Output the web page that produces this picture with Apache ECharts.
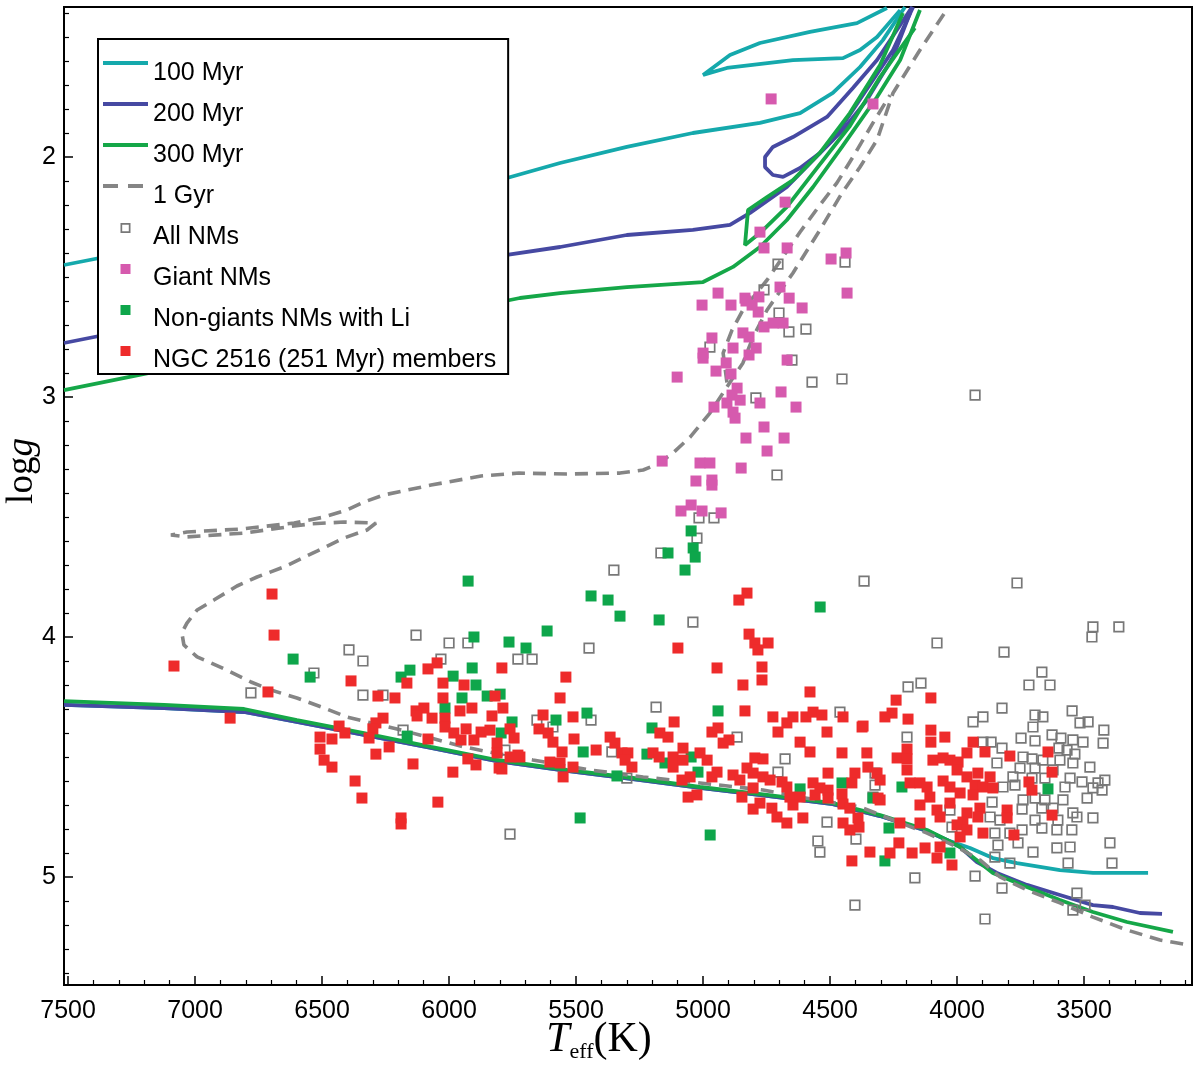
<!DOCTYPE html>
<html>
<head>
<meta charset="utf-8">
<script src="https://cdn.jsdelivr.net/npm/echarts@6/dist/echarts.min.js"></script>
<style>
html,body{margin:0;padding:0;background:#fff;}
#chart{width:1200px;height:1066px;}
</style>
</head>
<body>
<div id="chart"></div>
<script>
// ---------- names ----------
const seriesNames = ['100 Myr','200 Myr','300 Myr','1 Gyr','All NMs','Giant NMs','Non-giants NMs with Li','NGC 2516 (251 Myr) members'];

// ---------- isochrones [Teff, logg] ----------
const iso100Rgb = [[7516,2.45],[5772,2.0875],[5563,2.025],[5300,1.958],[5040,1.90],[4776,1.858],[4618,1.817],[4489,1.733],[4382,1.625],[4292,1.513],[4205,1.375]];
const iso100Loop = [[4276,1.379],[4394,1.442],[4579,1.479],[4776,1.525],[4894,1.575],[5000,1.658],[4906,1.629],[4646,1.596],[4449,1.588],[4382,1.554],[4315,1.5],[4224,1.388]];
const iso100Ms = [[7516,4.283],[7122,4.296],[6807,4.3125],[6599,4.354],[6335,4.408],[6071,4.4625],[5811,4.517],[5536,4.558],[5276,4.592],[5012,4.629],[4748,4.662],[4489,4.696],[4303,4.746],[4118,4.808],[4040,4.846],[3949,4.879],[3859,4.921],[3764,4.942],[3595,4.971],[3465,4.983],[3248,4.983]];

const iso200Rgb = [[7516,2.775],[5772,2.408],[5563,2.375],[5300,2.325],[5040,2.304],[4894,2.283],[4815,2.233],[4670,2.125],[4489,1.929],[4252,1.554],[4173,1.375]];
const iso200Loop = [[4177,1.375],[4315,1.596],[4410,1.7125],[4512,1.833],[4646,1.917],[4725,1.958],[4756,2.0],[4756,2.042],[4725,2.075],[4685,2.083],[4618,2.046],[4540,1.983],[4449,1.8875],[4355,1.7625],[4252,1.583],[4185,1.4]];
const iso200Ms = [[7516,4.283],[7122,4.296],[6807,4.3125],[6599,4.354],[6335,4.408],[6071,4.4625],[5811,4.517],[5536,4.558],[5276,4.592],[5012,4.629],[4748,4.662],[4489,4.696],[4303,4.746],[4118,4.808],[4040,4.846],[3988,4.875],[3922,4.9375],[3843,4.983],[3725,5.033],[3595,5.075],[3465,5.117],[3386,5.125],[3280,5.15],[3193,5.154]];

const iso300Rgb = [[7516,2.971],[5721,2.5875],[5563,2.567],[5300,2.542],[5000,2.521],[4882,2.458],[4776,2.375],[4670,2.2625],[4567,2.125],[4453,1.958],[4315,1.75],[4224,1.596],[4146,1.3875]];
const iso300Loop = [[4166,1.4625],[4303,1.667],[4422,1.871],[4567,2.067],[4670,2.208],[4776,2.317],[4835,2.367],[4823,2.221],[4748,2.167],[4646,2.096],[4540,1.983],[4422,1.817],[4303,1.617],[4213,1.4]];
const iso300Ms = [[7516,4.267],[7122,4.283],[6807,4.3],[6599,4.346],[6335,4.4],[6071,4.458],[5811,4.5125],[5536,4.554],[5276,4.5875],[5012,4.625],[4748,4.658],[4489,4.692],[4303,4.742],[4118,4.804],[4040,4.846],[3988,4.875],[3859,4.983],[3725,5.042],[3595,5.096],[3465,5.146],[3331,5.1875],[3150,5.229]];

const iso1GyrMain = [[3110,5.279],[3201,5.2625],[3331,5.221],[3465,5.167],[3595,5.108],[3725,5.054],[3831,5.0],[3910,4.929],[4000,4.875],[4118,4.817],[4252,4.7625],[4382,4.708],[4618,4.667],[4764,4.6375],[5012,4.608],[5236,4.583],[5445,4.554],[5670,4.5125],[5823,4.483],[5941,4.458],[6071,4.421],[6205,4.383],[6323,4.354],[6402,4.333],[6492,4.296],[6599,4.254],[6701,4.221],[6780,4.1875],[6859,4.146],[6937,4.108],[6992,4.083],[7044,4.033],[7052,3.983],[7032,3.942],[6992,3.8875],[6926,3.846],[6835,3.7875],[6756,3.75],[6650,3.708],[6520,3.642],[6414,3.5875],[6323,3.554],[6288,3.525],[6414,3.521],[6547,3.529],[6610,3.5375],[6807,3.567],[7032,3.583],[7095,3.575],[7032,3.5625],[6819,3.55],[6610,3.525],[6492,3.5],[6402,3.471],[6335,3.4375],[6256,3.408],[6071,3.367],[5874,3.329],[5725,3.317],[5536,3.321],[5327,3.317],[5236,3.304],[5177,3.279],[5118,3.233],[5051,3.167],[4973,3.067],[4906,2.958],[4843,2.858],[4803,2.75],[4748,2.6375],[4646,2.483],[4540,2.304],[4453,2.15],[4382,2.042],[4315,1.929],[4252,1.733],[4146,1.554],[4036,1.379]];
const iso1GyrAgb = [[4906,2.94],[4921,2.817],[4886,2.721],[4843,2.6375],[4748,2.5125],[4618,2.3125],[4540,2.2],[4473,2.108],[4410,2.0],[4331,1.858],[4264,1.742]];

// ---------- stars [Teff, logg] ----------
const allNMs = [[4705,2.446],[4441,2.438],[4760,2.554],[4701,2.65],[4662,2.729],[4595,2.717],[4973,2.792],[4650,2.846],[4571,2.938],[4453,2.925],[4792,3.004],[4709,3.325],[5016,3.504],[4957,3.504],[5024,3.588],[5166,3.65],[5351,3.721],[4366,3.767],[3929,2.992],[6130,3.992],[6000,4.025],[5926,4.025],[5729,4.092],[5673,4.092],[5449,4.046],[5040,3.938],[6394,4.054],[6339,4.1],[6532,4.15],[6032,4.092],[6339,4.242],[6260,4.242],[6780,4.233],[6181,4.388],[5780,4.471],[5760,4.821],[5185,4.292],[5654,4.346],[5441,4.346],[5591,4.375],[4866,4.417],[5359,4.479],[5300,4.588],[4461,4.313],[4677,4.508],[4705,4.563],[4323,4.567],[4323,4.617],[4331,4.667],[4512,4.771],[4548,4.85],[4540,4.896],[4398,4.842],[4079,4.025],[3815,4.063],[3465,3.958],[3363,3.958],[3469,4.0],[3666,4.146],[3717,4.2],[3634,4.2],[4193,4.208],[4142,4.192],[3823,4.296],[3937,4.354],[3898,4.333],[3693,4.325],[3662,4.333],[3701,4.375],[3547,4.308],[3516,4.358],[3484,4.354],[3422,4.388],[4197,4.417],[3898,4.438],[3866,4.438],[3823,4.463],[3748,4.421],[3693,4.433],[3626,4.408],[3591,4.421],[3544,4.429],[3504,4.438],[3425,4.442],[3599,4.463],[3567,4.471],[3536,4.488],[3740,4.5],[3705,4.508],[3662,4.513],[3595,4.513],[3544,4.525],[3843,4.525],[3752,4.546],[3693,4.546],[3622,4.554],[3477,4.542],[3780,4.583],[3705,4.588],[3654,4.588],[3555,4.588],[3508,4.604],[3445,4.608],[3418,4.596],[3465,4.629],[3429,4.638],[3819,4.625],[3772,4.617],[3575,4.625],[3488,4.671],[3862,4.688],[3740,4.679],[3693,4.671],[3654,4.679],[3622,4.713],[3583,4.679],[3744,4.717],[3666,4.713],[3544,4.733],[4028,4.721],[3870,4.75],[3831,4.763],[3693,4.763],[3603,4.763],[3528,4.75],[3465,4.754],[3744,4.804],[3666,4.796],[3607,4.804],[3548,4.804],[3851,4.817],[3792,4.817],[3839,4.867],[3760,4.858],[3701,4.896],[3607,4.879],[3555,4.875],[3398,4.858],[3563,4.942],[3390,4.942],[3929,4.996],[3823,5.046],[4166,5.004],[3528,5.067],[3496,5.117],[3544,5.138],[3890,5.175],[4020,4.792],[3851,4.917],[3792,4.942],[4402,5.117],[3764,3.775]];

const giantNMs = [[4732,1.758],[4331,1.779],[4677,2.188],[4776,2.313],[4760,2.379],[4669,2.379],[4496,2.425],[4437,2.40],[4941,2.567],[4835,2.588],[4780,2.583],[4697,2.542],[4661,2.588],[4433,2.567],[5004,2.617],[4890,2.617],[4831,2.60],[4610,2.629],[4783,2.646],[4807,2.617],[4760,2.708],[4724,2.692],[4685,2.692],[4965,2.754],[5000,2.817],[5000,2.838],[4882,2.796],[4843,2.733],[4819,2.75],[4791,2.796],[4819,2.825],[4669,2.846],[4909,2.858],[4949,2.892],[4890,2.904],[5102,2.917],[4866,2.963],[4886,2.992],[4854,3.013],[4906,3.025],[4882,3.063],[4874,3.088],[4957,3.042],[4776,3.025],[4693,2.979],[4634,3.042],[4760,3.125],[4831,3.171],[4681,3.171],[4748,3.225],[5161,3.267],[5012,3.275],[4973,3.275],[4850,3.296],[5028,3.35],[4965,3.346],[4965,3.367],[5087,3.475],[5047,3.45],[5004,3.475],[4929,3.483]];

const liNMs = [[5047,3.558],[5039,3.629],[5031,3.667],[5138,3.65],[5071,3.721],[5925,3.767],[5441,3.829],[5374,3.846],[5327,3.913],[5173,3.929],[5614,3.975],[5902,4.0],[5764,4.021],[5697,4.046],[6614,4.092],[6547,4.167],[6189,4.167],[6154,4.138],[5984,4.163],[5909,4.129],[5894,4.2],[5949,4.254],[6016,4.296],[5850,4.246],[5799,4.238],[5752,4.354],[5795,4.4],[6165,4.413],[4539,3.875],[5579,4.346],[5457,4.317],[5472,4.479],[5201,4.379],[5221,4.488],[5150,4.525],[4941,4.308],[5047,4.5],[5020,4.563],[5339,4.579],[5484,4.754],[4972,4.825],[4453,4.608],[4618,4.633],[4331,4.671],[3642,4.633],[4217,4.625],[4268,4.796],[4284,4.933],[4028,4.9]];

const ngc2516 = [[6697,3.821],[6689,3.992],[7083,4.121],[6713,4.229],[6862,4.338],[6386,4.183],[6280,4.246],[6213,4.254],[6166,4.192],[6083,4.133],[6047,4.108],[6024,4.192],[5941,4.2],[5792,4.129],[6024,4.254],[5910,4.296],[5957,4.308],[5819,4.246],[5788,4.296],[5831,4.329],[6130,4.308],[6099,4.296],[6126,4.329],[6067,4.338],[6016,4.338],[6016,4.375],[6260,4.338],[6288,4.358],[6300,4.383],[6315,4.421],[6433,4.371],[6410,4.4],[6508,4.417],[6461,4.425],[6508,4.467],[6492,4.513],[6461,4.542],[6288,4.488],[6236,4.458],[6370,4.6],[6343,4.671],[6189,4.754],[6189,4.779],[6142,4.529],[6044,4.688],[5985,4.563],[5981,4.4],[5933,4.383],[5953,4.429],[6083,4.425],[5926,4.508],[5894,4.533],[5902,4.429],[5874,4.396],[5839,4.388],[5803,4.546],[5811,4.442],[5811,4.483],[5760,4.5],[5760,4.383],[5744,4.421],[5721,4.5],
[5540,4.167],[5099,4.046],[4945,4.129],[5563,4.254],
[4859,3.846],[4827,3.817],[4819,3.988],[4796,4.025],[4784,4.054],[4744,4.025],[4768,4.125],[4768,4.179],[4843,4.2],[4579,4.229],[4835,4.308],[5630,4.325],[5512,4.333],[5646,4.383],[5610,4.4],[5591,4.438],[5555,4.479],[5508,4.425],[5729,4.492],[5792,4.55],[5603,4.521],[5563,4.525],[5512,4.542],[5551,4.583],[5421,4.471],[5366,4.417],[5347,4.442],[5319,4.483],[5296,4.483],[5307,4.513],[5280,4.542],[5114,4.354],[5170,4.4],[5138,4.417],[4965,4.396],[4941,4.379],[4921,4.442],[4898,4.429],[5197,4.483],[5173,4.5],[5118,4.5],[5118,4.542],[5079,4.463],[5079,4.513],[5083,4.596],[5012,4.483],[4984,4.513],[5051,4.583],[5059,4.667],[5024,4.658],[4965,4.583],[4945,4.563],[4882,4.575],[4855,4.596],[4827,4.546],[4796,4.504],[4764,4.508],[4803,4.567],[4764,4.583],[4736,4.596],[4803,4.629],[4847,4.667],[4776,4.692],[4803,4.717],[4729,4.713],[4709,4.75],[4670,4.775],[4689,4.604],[4670,4.625],[4658,4.667],[4618,4.667],[4646,4.7],[4607,4.754],[4725,4.333],[4670,4.358],[4646,4.333],[4705,4.396],[4595,4.333],[4567,4.313],[4532,4.325],[4618,4.438],[4579,4.479],[4512,4.396],[4449,4.333],[4374,4.375],[4453,4.483],[4508,4.567],[4355,4.483],[4351,4.542],[4402,4.567],[4414,4.608],[4567,4.608],[4540,4.629],[4508,4.638],[4559,4.658],[4508,4.671],[4453,4.654],[4449,4.696],[4422,4.713],[4390,4.754],[4386,4.792],[4449,4.775],[4422,4.804],[4343,4.896],[4414,4.933],[4311,4.671],[4315,4.567],
[4240,4.263],[4103,4.254],[4256,4.317],[4284,4.333],[4193,4.342],[4370,4.371],[4103,4.388],[4048,4.417],[4103,4.438],[4197,4.467],[4236,4.504],[4197,4.508],[4197,4.554],[4303,4.596],[4185,4.608],[4146,4.608],[4118,4.625],[4095,4.513],[4055,4.504],[4028,4.513],[3996,4.521],[3961,4.483],[3937,4.438],[3890,4.479],[4000,4.554],[4055,4.6],[4028,4.625],[3961,4.583],[3918,4.567],[3870,4.583],[3929,4.617],[3898,4.625],[3859,4.629],[3988,4.65],[3937,4.658],[4107,4.667],[4028,4.692],[4146,4.7],[4079,4.721],[4067,4.75],[3910,4.713],[3918,4.75],[3961,4.733],[3977,4.771],[4000,4.783],[3961,4.804],[3988,4.833],[3898,4.817],[3803,4.721],[3803,4.754],[3776,4.825],[3792,4.496],[3717,4.604],[3705,4.638],[3642,4.479],[3626,4.563],[3626,4.742],[4303,4.679],[4225,4.775],[4146,4.775],[4264,4.9],[4229,4.858],[4177,4.9],[4126,4.879],[4067,4.875],[4079,4.921],[4020,4.95]];

// ---------- styles ----------
const C_CYAN = '#15a9ac', C_BLUE = '#4649a2', C_GREEN_L = '#15a748', C_GRAY = '#858585';
const C_PINK = '#d65aae', C_GREEN = '#0ea64b', C_RED = '#ee2b2b', C_OPEN = '#787878';

function lineSeries(name, data, color, dashed) {
  return {
    name: name, type: 'line', data: data, symbol: 'none', silent: true,
    lineStyle: { color: color, width: dashed ? 3.6 : 3.8, type: dashed ? [13, 8] : 'solid' },
    itemStyle: { color: color }, z: 2, clip: true
  };
}
function scatterSeries(name, data, color, hollow, z) {
  return {
    name: name, type: 'scatter', data: data, symbol: 'rect', symbolSize: hollow ? 9.5 : 11,
    itemStyle: hollow ? { color: 'rgba(255,255,255,0)', borderColor: color, borderWidth: 1.7, opacity: 1 } : { color: color, opacity: 1 },
    z: z, silent: true, clip: true
  };
}

// legend icon shapes, drawn in a 45 x 28 frame (zero-area frame lines keep the frame size)
const FRAME = 'M0,0L45,0M0,28L45,28';
const iconLine = 'path://' + FRAME + 'M0,2L45,2L45,6L0,6Z';
const iconDash = 'path://' + FRAME + 'M0,2L15,2L15,6L0,6ZM25,2L40,2L40,6L25,6Z';
const iconSq = 'path://' + FRAME + 'M17.5,0L27.5,0L27.5,10L17.5,10Z';
const iconOpenSq = 'path://' + FRAME + 'M17.5,0L27.5,0L27.5,10L17.5,10ZM19.2,1.7L19.2,8.3L25.8,8.3L25.8,1.7Z';
const noBorder = { borderWidth: 0, borderColor: 'rgba(0,0,0,0)', opacity: 1 };

const chart = echarts.init(document.getElementById('chart'), null, { renderer: 'canvas' });
const option = {
  animation: false,
  backgroundColor: '#fff',
  grid: { left: 64, right: 8, top: 7, bottom: 81, show: true, borderColor: '#000', borderWidth: 2, backgroundColor: 'transparent' },
  legend: {
    orient: 'vertical', left: 98, top: 39, backgroundColor: '#fff', borderColor: '#000', borderWidth: 2,
    padding: [20, 12, 0, 5], itemGap: 13, itemWidth: 45, itemHeight: 28, selectedMode: false, z: 10,
    symbolKeepAspect: false,
    textStyle: { fontSize: 25, fontFamily: 'Liberation Sans, Arial, sans-serif', color: '#000' },
    data: [
      { name: seriesNames[0], icon: iconLine, itemStyle: Object.assign({ color: C_CYAN }, noBorder) },
      { name: seriesNames[1], icon: iconLine, itemStyle: Object.assign({ color: C_BLUE }, noBorder) },
      { name: seriesNames[2], icon: iconLine, itemStyle: Object.assign({ color: C_GREEN_L }, noBorder) },
      { name: seriesNames[3], icon: iconDash, itemStyle: Object.assign({ color: C_GRAY }, noBorder) },
      { name: seriesNames[4], icon: iconOpenSq, itemStyle: Object.assign({ color: C_OPEN }, noBorder) },
      { name: seriesNames[5], icon: iconSq, itemStyle: Object.assign({ color: C_PINK }, noBorder) },
      { name: seriesNames[6], icon: iconSq, itemStyle: Object.assign({ color: C_GREEN }, noBorder) },
      { name: seriesNames[7], icon: iconSq, itemStyle: Object.assign({ color: C_RED }, noBorder) }
    ]
  },
  xAxis: {
    type: 'value', inverse: true, min: 3075, max: 7516, splitNumber: 9, minInterval: 500, maxInterval: 500,
    axisLine: { show: true, onZero: false, lineStyle: { color: '#000', width: 2 } },
    axisTick: { show: true, inside: true, length: 9, lineStyle: { color: '#000', width: 1.5 } },
    minorTick: { show: true, splitNumber: 5, length: 5, lineStyle: { color: '#000', width: 1.2 } },
    axisLabel: { fontSize: 25, color: '#000', margin: 14, fontFamily: 'Liberation Sans, Arial, sans-serif', showMinLabel: false, showMaxLabel: false, formatter: function (v) { return String(v); } },
    splitLine: { show: false }, minorSplitLine: { show: false }
  },
  yAxis: {
    type: 'value', inverse: true, min: 1.375, max: 5.45, splitNumber: 4, minInterval: 1, maxInterval: 1,
    axisLine: { show: true, onZero: false, lineStyle: { color: '#000', width: 2 } },
    axisTick: { show: true, inside: true, length: 9, lineStyle: { color: '#000', width: 1.5 } },
    minorTick: { show: true, splitNumber: 10, length: 5, lineStyle: { color: '#000', width: 1.2 } },
    axisLabel: { fontSize: 25, color: '#000', margin: 8, fontFamily: 'Liberation Sans, Arial, sans-serif', showMinLabel: false, showMaxLabel: false, formatter: function (v) { return String(v); } },
    splitLine: { show: false }, minorSplitLine: { show: false }
  },
  graphic: [
    { type: 'text', x: 599, y: 1040, silent: true,
      style: { text: '{t|T}{s|eff}{k|(K)}', align: 'center', verticalAlign: 'middle',
        rich: {
          t: { fontFamily: 'Liberation Serif, Times New Roman, serif', fontStyle: 'italic', fontSize: 42, lineHeight: 46, fill: '#000' },
          s: { fontFamily: 'Liberation Serif, Times New Roman, serif', fontSize: 22, lineHeight: 22, verticalAlign: 'bottom', fill: '#000' },
          k: { fontFamily: 'Liberation Serif, Times New Roman, serif', fontSize: 42, lineHeight: 46, fill: '#000' }
        } } },
    { type: 'text', x: 22, y: 471, rotation: Math.PI / 2, silent: true,
      style: { text: '{a|log}{b|g}', align: 'center', verticalAlign: 'middle',
        rich: {
          a: { fontFamily: 'Liberation Serif, Times New Roman, serif', fontSize: 37, fill: '#000' },
          b: { fontFamily: 'Liberation Serif, Times New Roman, serif', fontStyle: 'italic', fontSize: 37, fill: '#000' }
        } } }
  ],
  series: [
    lineSeries(seriesNames[0], iso100Rgb, C_CYAN, false),
    lineSeries(seriesNames[0], iso100Loop, C_CYAN, false),
    lineSeries(seriesNames[0], iso100Ms, C_CYAN, false),
    lineSeries(seriesNames[1], iso200Rgb, C_BLUE, false),
    lineSeries(seriesNames[1], iso200Loop, C_BLUE, false),
    lineSeries(seriesNames[1], iso200Ms, C_BLUE, false),
    lineSeries(seriesNames[2], iso300Rgb, C_GREEN_L, false),
    lineSeries(seriesNames[2], iso300Loop, C_GREEN_L, false),
    lineSeries(seriesNames[2], iso300Ms, C_GREEN_L, false),
    lineSeries(seriesNames[3], iso1GyrMain, C_GRAY, true),
    lineSeries(seriesNames[3], iso1GyrAgb, C_GRAY, true),
    scatterSeries(seriesNames[4], allNMs, C_OPEN, true, 3),
    scatterSeries(seriesNames[5], giantNMs, C_PINK, false, 4),
    scatterSeries(seriesNames[6], liNMs, C_GREEN, false, 4),
    scatterSeries(seriesNames[7], ngc2516, C_RED, false, 5)
  ]
};
chart.setOption(option);
</script>
</body>
</html>
